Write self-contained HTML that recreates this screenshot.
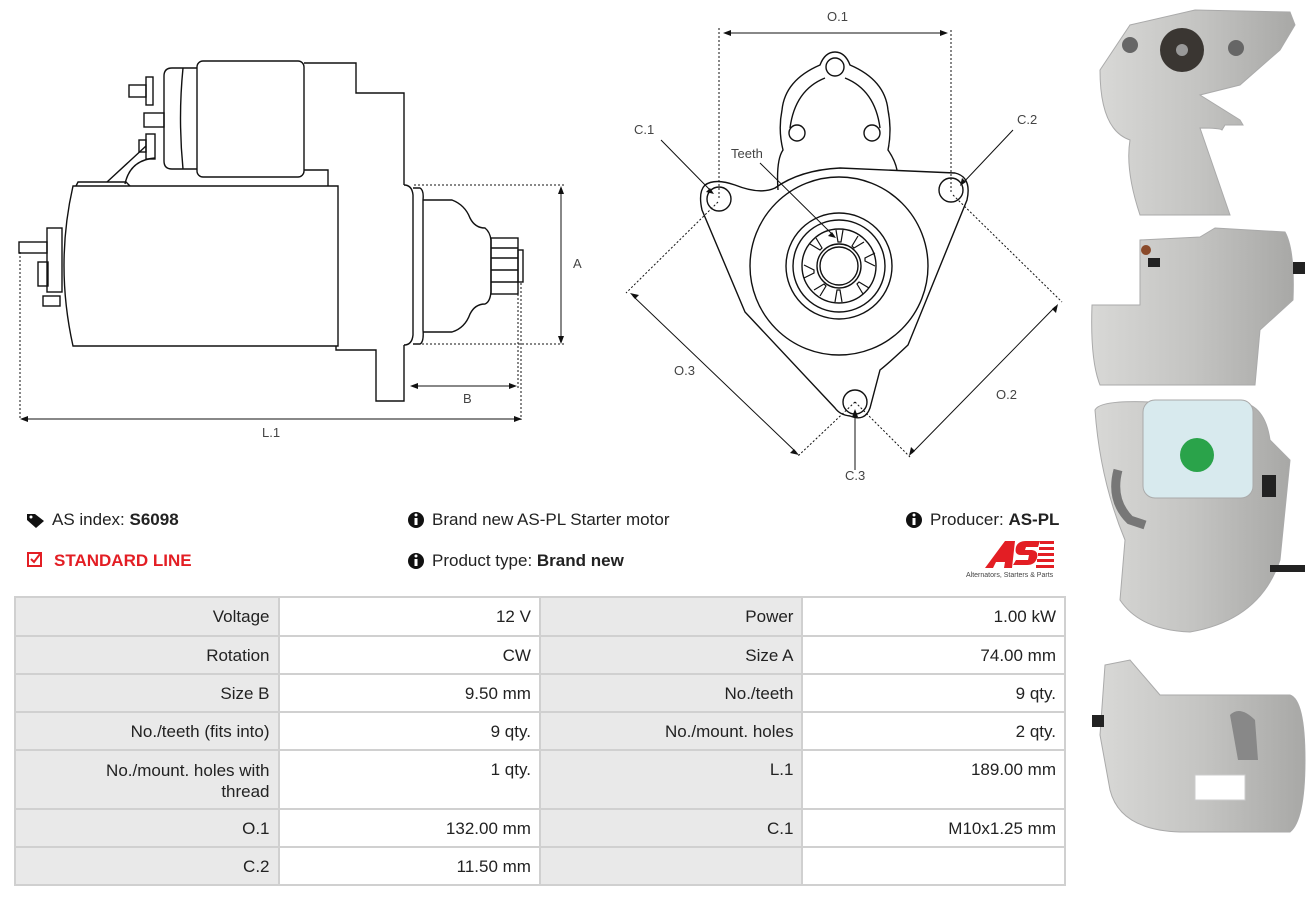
<!DOCTYPE html>
<html><head><meta charset="utf-8"><style>
*{margin:0;padding:0;box-sizing:border-box}
body{width:1316px;height:898px;background:#fff;position:relative;overflow:hidden;font-family:"Liberation Sans",sans-serif;color:#222}
.t{position:absolute;font-size:17px;white-space:nowrap}
table{position:absolute;left:14px;top:596px;border-collapse:collapse;width:1052px}
td{border:2px solid #d0d0d0;font-size:17px;text-align:right;padding:0 8px;vertical-align:top;padding-top:9px;color:#222}
td.l{background:#e9e9e9}
</style></head><body>
<svg width="1316" height="898" style="position:absolute;left:0;top:0" fill="none" stroke="#111" stroke-width="1.4">
<!-- side view -->
<rect x="197" y="61" width="107" height="116" rx="6" fill="#fff"/>
<path d="M197 68 H172 Q164 68 164 76 V161 Q164 169 172 169 H197"/>
<path d="M183 68 Q178 118 183 169"/>
<rect x="146" y="77" width="7" height="28"/><rect x="129" y="85" width="17" height="12"/>
<rect x="144" y="113" width="20" height="14"/>
<rect x="146" y="134" width="9" height="25"/><rect x="139" y="140" width="7" height="12"/>
<path d="M146 146 L107 182 M155 158 Q130 160 125 184"/>
<path d="M304 63 H356 V93 H404 V185 M404 345 V401 H376 V350 H336 V346"/>
<path d="M304 170 H328 V186"/>
<path d="M76 186 L78 182 H126 L130 186"/>
<path d="M73 186 H338 V346 H73 Q55 265 73 186 Z"/>
<rect x="47" y="228" width="15" height="64"/>
<rect x="19" y="242" width="28" height="11"/><rect x="38" y="262" width="10" height="24"/><rect x="43" y="296" width="17" height="10"/>
<path d="M404 185 Q412 185 413 195 V335 Q412 345 404 345"/>
<path d="M413 188 H420 Q424 190 423 200 V330 Q424 342 420 344 H413"/>
<path d="M423 200 H452 Q465 205 470 218 Q475 228 485 228 Q490 232 491 240 V292 Q490 302 485 304 Q475 304 470 314 Q465 328 452 332 H423"/>
<rect x="491" y="238" width="27" height="56"/>
<path d="M491 248 H518 M491 258 H518 M491 270 H518 M491 282 H518"/>
<rect x="518" y="250" width="5" height="32"/>
<g stroke-width="1" stroke-dasharray="2 2"><path d="M20 252 V420 M521 283 V420 M518 294 V388 M414 185 H566 M422 344 H566"/></g>
<g stroke-width="1"><path d="M22 419 H520 M412 386 H515 M561 189 V341"/></g>
<g fill="#111" stroke="none"><path d="M20 419 l8 -3 v6z M522 419 l-8 -3 v6z M410 386 l8 -3 v6z M517 386 l-8 -3 v6z M561 186 l-3 8 h6z M561 344 l-3 -8 h6z"/></g>
<!-- front view -->
<path d="M778 190 Q776 160 783 150 Q778 130 782 110 Q785 80 820 65 Q825 52 835 52 Q845 52 850 65 Q885 80 888 110 Q892 130 888 150 Q895 160 897 170"/>
<path d="M790 128 Q795 90 825 78 M880 128 Q875 90 845 78"/>
<circle cx="835" cy="67" r="9"/><circle cx="797" cy="133" r="8"/><circle cx="872" cy="133" r="8"/>
<path d="M705 185 Q715 178 735 185 Q760 195 775 188 Q800 170 840 168 L955 173 Q972 177 967 200 L908 345 Q890 362 880 370 L870 408 Q865 422 850 416 Q840 415 835 408 L745 312 L702 210 Q698 192 705 185 Z"/>
<circle cx="719" cy="199" r="12"/><circle cx="951" cy="190" r="12"/><circle cx="855" cy="402" r="12"/>
<circle cx="839" cy="266" r="89"/><circle cx="839" cy="266" r="53"/><circle cx="839" cy="266" r="46"/><circle cx="839" cy="266" r="37"/><circle cx="839" cy="266" r="22"/><circle cx="839" cy="266" r="19"/>
<g stroke-width="1.2">
<path d="M836 230 l2 12 h3 l2 -12 M858 236 l-6 10 2 2 10 -6 M875 253 l-10 5 v3 l10 5 M869 288 l-10 -6 -2 2 6 10 M842 302 l-2 -12 h-3 l-2 12 M820 296 l6 -10 -2 -2 -10 6 M804 278 l10 -5 v-3 l-10 -5 M810 244 l10 6 2 -2 -6 -10"/>
</g>
<g stroke-width="1" stroke-dasharray="2 2"><path d="M719 28 V200 M951 30 V192 M718 202 L626 293 M855 402 L797 457 M953 195 L1062 302 M855 402 L910 457"/></g>
<g stroke-width="1"><path d="M726 33 H945 M633 296 L796 452 M1055 307 L912 453 M661 140 L712 192 M1013 130 L962 184 M855 470 V412 M760 163 L834 236"/></g>
<g fill="#111" stroke="none"><path d="M723 33 l8 -3 v6z M948 33 l-8 -3 v6z M630 293 l9 2 -4 4z M799 455 l-9 -2 4 -4z M1058 304 l-2 9 -4 -4z M909 456 l2 -9 4 4z M714 194 l-8 -2 4 -4z M960 186 l2 -8 4 4z M855 409 l-3 8 h6z M836 238 l-8 -2 4 -4z"/></g>
<!-- icons -->
<g fill="#111" stroke="none">
<path d="M27 514 h8 l9 7 -8 7 -9 -8z"/><circle cx="31" cy="517" r="1.5" fill="#fff"/>
<circle cx="416" cy="520" r="8"/><circle cx="416" cy="561" r="8"/><circle cx="914" cy="520" r="8"/>
</g>
<g fill="#fff" stroke="none"><rect x="414.5" y="518" width="3" height="7"/><circle cx="416" cy="515" r="1.5"/><rect x="414.5" y="559" width="3" height="7"/><circle cx="416" cy="556" r="1.5"/><rect x="912.5" y="518" width="3" height="7"/><circle cx="914" cy="515" r="1.5"/></g>
<rect x="28" y="553" width="13" height="13" stroke="#e31e24" stroke-width="2"/><path d="M31 559 l3 3 6 -8" stroke="#e31e24" stroke-width="2"/>
<g fill="#e31e24" stroke="none"><path d="M985 568 L1005 541 H1015 L1012 568 H1004 L1005 562 H996 L993 568Z M1016 560 h12 l1 -5 h-8 q-7 0 -5 -8 q2 -6 10 -6 h14 l-2 6 h-12 l-1 3 h7 q7 1 5 8 q-2 7 -10 7 h-14z"/>
<rect x="1040" y="541" width="14" height="3"/><rect x="1039" y="547" width="15" height="3"/><rect x="1038" y="553" width="16" height="3"/><rect x="1037" y="559" width="17" height="3"/><rect x="1036" y="565" width="18" height="3"/></g>
<!-- photos -->
<defs><linearGradient id="g" x1="0" x2="1"><stop offset="0" stop-color="#d8d8d6"/><stop offset=".5" stop-color="#c4c4c2"/><stop offset="1" stop-color="#a8a8a6"/></linearGradient></defs>
<g stroke="#aaa" stroke-width="1" fill="url(#g)">
<path d="M1100 70 L1130 25 L1195 10 L1290 12 L1295 25 L1280 50 L1240 85 L1200 95 L1240 120 L1243 125 L1225 125 L1222 130 Q1220 128 1200 128 L1230 215 H1140 Q1125 170 1130 140 Q1100 130 1100 70Z"/>
<circle cx="1182" cy="50" r="22" fill="#3a3632" stroke="none"/><circle cx="1182" cy="50" r="6" fill="#999" stroke="none"/>
<circle cx="1130" cy="45" r="8" fill="#666" stroke="none"/><circle cx="1236" cy="48" r="8" fill="#666" stroke="none"/>
<path d="M1092 305 H1140 V240 L1200 237 L1215 228 L1285 232 Q1295 250 1293 300 L1260 330 L1255 385 H1100 Q1090 360 1092 305Z"/>
<rect x="1148" y="258" width="12" height="9" fill="#222" stroke="none"/><circle cx="1146" cy="250" r="5" fill="#8a4a2a" stroke="none"/><rect x="1293" y="262" width="12" height="12" fill="#222" stroke="none"/>
<path d="M1095 410 Q1100 400 1150 402 H1240 Q1265 405 1270 440 L1290 460 L1280 560 Q1260 620 1190 632 Q1140 630 1120 600 L1125 540 Q1100 480 1095 410Z"/>
<rect x="1143" y="400" width="110" height="98" rx="12" fill="#d8eaee"/>
<circle cx="1197" cy="455" r="17" fill="#2aa34a" stroke="none"/>
<path d="M1118 470 Q1110 500 1130 520 L1145 525" stroke="#777" stroke-width="9" fill="none"/>
<rect x="1262" y="475" width="14" height="22" fill="#222" stroke="none"/><rect x="1270" y="565" width="35" height="7" fill="#222" stroke="none"/>
<path d="M1105 665 L1130 660 L1160 695 H1290 Q1305 700 1305 760 Q1305 820 1290 832 H1180 Q1120 830 1110 790 L1100 735Z"/>
<rect x="1092" y="715" width="12" height="12" fill="#222" stroke="none"/>
<path d="M1230 715 Q1240 705 1255 720 L1258 760 H1238Z" fill="#888" stroke="none"/>
<rect x="1195" y="775" width="50" height="25" fill="#fff" stroke="#ccc"/>
</g>
</svg>
<div class="t" style="left:52px;top:510px;">AS index: <b>S6098</b></div>
<div class="t" style="left:54px;top:551px;color:#e31e24;font-weight:bold;">STANDARD LINE</div>
<div class="t" style="left:432px;top:510px;">Brand new AS-PL Starter motor</div>
<div class="t" style="left:432px;top:551px;">Product type: <b>Brand new</b></div>
<div class="t" style="left:930px;top:510px;">Producer: <b>AS-PL</b></div>
<div class="t" style="left:966px;top:572px;font-size:7px;color:#444">Alternators, Starters &amp; Parts</div>
<div class="t" style="left:827px;top:9px;font-size:13px;color:#444">O.1</div>
<div class="t" style="left:634px;top:122px;font-size:13px;color:#444">C.1</div>
<div class="t" style="left:1017px;top:112px;font-size:13px;color:#444">C.2</div>
<div class="t" style="left:731px;top:146px;font-size:13px;color:#444">Teeth</div>
<div class="t" style="left:674px;top:363px;font-size:13px;color:#444">O.3</div>
<div class="t" style="left:996px;top:387px;font-size:13px;color:#444">O.2</div>
<div class="t" style="left:845px;top:468px;font-size:13px;color:#444">C.3</div>
<div class="t" style="left:573px;top:256px;font-size:13px;color:#444">A</div>
<div class="t" style="left:463px;top:391px;font-size:13px;color:#444">B</div>
<div class="t" style="left:262px;top:425px;font-size:13px;color:#444">L.1</div>
<table>
<colgroup><col style="width:264px"><col style="width:262px"><col style="width:263px"><col style="width:263px"></colgroup>
<tr style="height:39px"><td class="l">Voltage</td><td>12 V</td><td class="l">Power</td><td>1.00 kW</td></tr>
<tr style="height:38px"><td class="l">Rotation</td><td>CW</td><td class="l">Size A</td><td>74.00 mm</td></tr>
<tr style="height:38px"><td class="l">Size B</td><td>9.50 mm</td><td class="l">No./teeth</td><td>9 qty.</td></tr>
<tr style="height:38px"><td class="l">No./teeth (fits into)</td><td>9 qty.</td><td class="l">No./mount. holes</td><td>2 qty.</td></tr>
<tr style="height:59px"><td class="l" style="line-height:21px">No./mount. holes with<br>thread</td><td>1 qty.</td><td class="l">L.1</td><td>189.00 mm</td></tr>
<tr style="height:38px"><td class="l">O.1</td><td>132.00 mm</td><td class="l">C.1</td><td>M10x1.25 mm</td></tr>
<tr style="height:38px"><td class="l">C.2</td><td>11.50 mm</td><td class="l"></td><td></td></tr>
</table>
</body></html>
